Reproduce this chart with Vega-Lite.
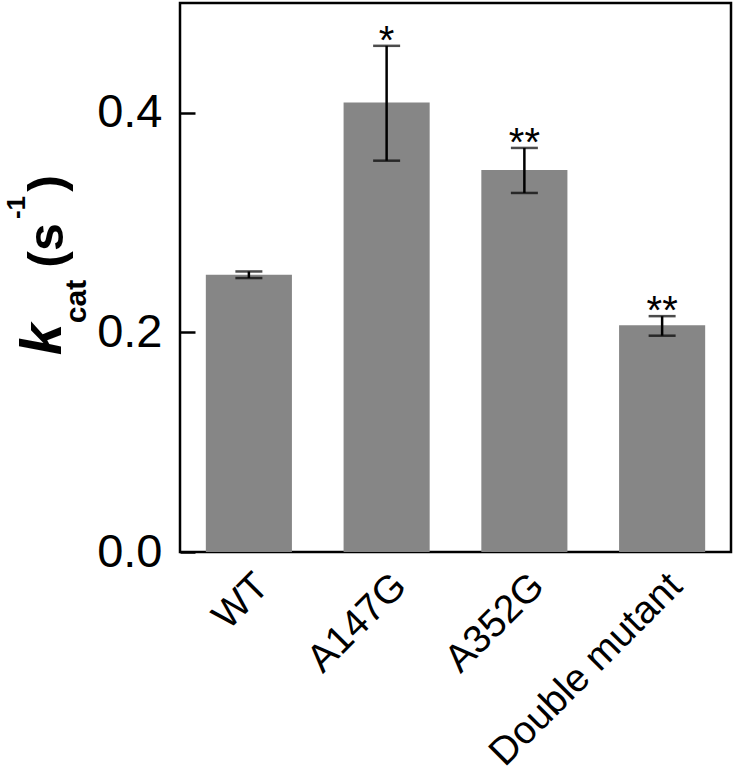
{
  "$schema": "https://vega.github.io/schema/vega-lite/v6.json",
  "width": 551,
  "height": 549,
  "autosize": "none",
  "padding": {"left": 180, "top": 3, "right": 2, "bottom": 225},
  "background": "white",
  "config": {
    "font": "Liberation Sans",
    "view": {"stroke": "black", "strokeWidth": 2.5},
    "axis": {"grid": false}
  },
  "data": {
    "values": [
      {"mutant": "WT", "kcat": 0.2525, "lo": 0.2495, "hi": 0.2555, "star": ""},
      {"mutant": "A147G", "kcat": 0.4094, "lo": 0.3564, "hi": 0.461, "star": "*"},
      {"mutant": "A352G", "kcat": 0.348, "lo": 0.327, "hi": 0.368, "star": "**"},
      {"mutant": "Double mutant", "kcat": 0.2064, "lo": 0.197, "hi": 0.2148, "star": "**"}
    ]
  },
  "encoding": {
    "x": {
      "field": "mutant",
      "type": "nominal",
      "sort": null,
      "scale": {"paddingInner": 0.375, "paddingOuter": 0.1875},
      "axis": {
        "title": null,
        "ticks": false,
        "domain": false,
        "labelAngle": -45,
        "labelFontSize": 39,
        "labelColor": "black",
        "labelPadding": 14,
        "labelLimit": 0
      }
    }
  },
  "layer": [
    {
      "mark": {"type": "bar", "color": "#868686"},
      "encoding": {
        "y": {
          "field": "kcat",
          "type": "quantitative",
          "scale": {"domain": [0, 0.5], "nice": false},
          "axis": {
            "orient": "left",
            "title": null,
            "values": [0, 0.2, 0.4],
            "format": ".1f",
            "domain": false,
            "ticks": false,
            "labelFontSize": 47,
            "labelColor": "black",
            "labelPadding": 18
          }
        }
      }
    },
    {
      "mark": {"type": "errorbar", "color": "black", "ticks": {"size": 27, "thickness": 2.5}, "rule": {"strokeWidth": 2.5}},
      "encoding": {
        "y": {"field": "lo", "type": "quantitative", "axis": null},
        "y2": {"field": "hi"}
      }
    },
    {
      "mark": {"type": "text", "fontSize": 40, "baseline": "alphabetic", "dy": 8, "color": "black"},
      "encoding": {
        "y": {"field": "hi", "type": "quantitative", "axis": null},
        "text": {"field": "star"}
      }
    },
    {
      "mark": {"type": "point", "opacity": 0},
      "encoding": {
        "y": {"datum": 0, "type": "quantitative", "axis": {"orient": "left", "offset": -15, "values": [0, 0.2, 0.4], "labels": false, "ticks": true, "tickSize": 15, "tickWidth": 2.5, "tickColor": "black", "domain": false, "title": null, "zindex": 1}}
      }
    },
    {
      "mark": {"type": "point", "opacity": 0},
      "encoding": {
        "y": {"datum": 0, "type": "quantitative", "axis": {"orient": "left", "labels": false, "ticks": false, "domain": false, "title": "k", "titleAngle": -90, "titleAlign": "center", "titleBaseline": "alphabetic", "titleX": -120, "titleY": 336, "titleFontSize": 57, "titleFontWeight": "bold", "titleFontStyle": "italic", "titleColor": "black"}}
      }
    },
    {
      "mark": {"type": "point", "opacity": 0},
      "encoding": {
        "y": {"datum": 0, "type": "quantitative", "axis": {"orient": "left", "labels": false, "ticks": false, "domain": false, "title": "cat", "titleAngle": -90, "titleAlign": "center", "titleBaseline": "alphabetic", "titleX": -95, "titleY": 298, "titleFontSize": 30, "titleFontWeight": "bold", "titleColor": "black"}}
      }
    },
    {
      "mark": {"type": "point", "opacity": 0},
      "encoding": {
        "y": {"datum": 0, "type": "quantitative", "axis": {"orient": "left", "labels": false, "ticks": false, "domain": false, "title": "(s", "titleAngle": -90, "titleAlign": "center", "titleBaseline": "alphabetic", "titleX": -118, "titleY": 242, "titleFontSize": 50, "titleFontWeight": "bold", "titleColor": "black"}}
      }
    },
    {
      "mark": {"type": "point", "opacity": 0},
      "encoding": {
        "y": {"datum": 0, "type": "quantitative", "axis": {"orient": "left", "labels": false, "ticks": false, "domain": false, "title": "-1", "titleAngle": -90, "titleAlign": "center", "titleBaseline": "alphabetic", "titleX": -156, "titleY": 204, "titleFontSize": 26, "titleFontWeight": "bold", "titleColor": "black"}}
      }
    },
    {
      "mark": {"type": "point", "opacity": 0},
      "encoding": {
        "y": {"datum": 0, "type": "quantitative", "axis": {"orient": "left", "labels": false, "ticks": false, "domain": false, "title": ")", "titleAngle": -90, "titleAlign": "center", "titleBaseline": "alphabetic", "titleX": -118, "titleY": 180, "titleFontSize": 50, "titleFontWeight": "bold", "titleColor": "black"}}
      }
    }
  ],
  "resolve": {"axis": {"y": "independent"}}
}
